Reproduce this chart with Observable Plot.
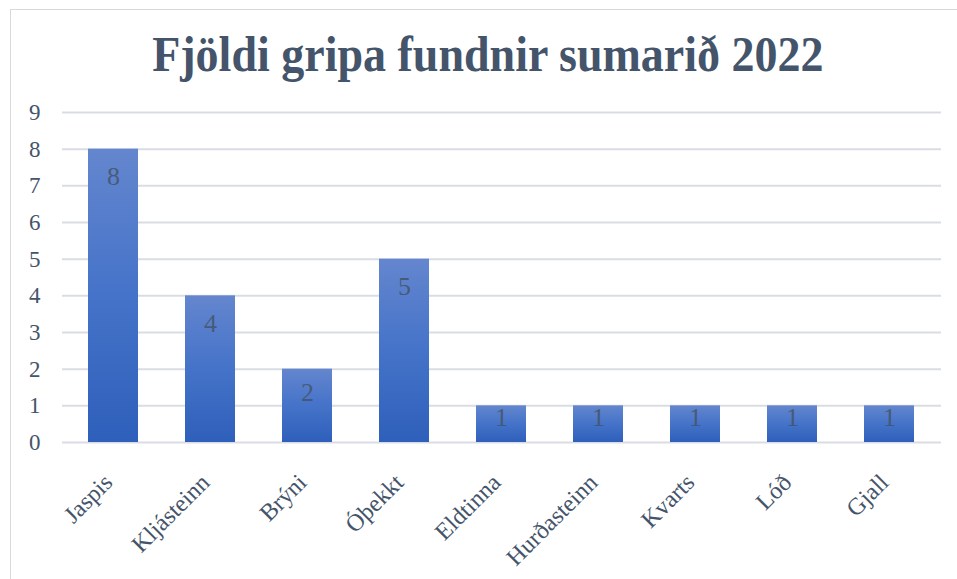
<!DOCTYPE html>
<html>
<head>
<meta charset="utf-8">
<script src="https://cdn.jsdelivr.net/npm/d3@7"></script>
<script src="https://cdn.jsdelivr.net/npm/@observablehq/plot@0.6"></script>
<style>
  html, body { margin: 0; padding: 0; background: #fff; overflow: hidden; width: 957px; height: 579px; }
  #frame { position: absolute; left: 10px; top: 9px; width: 960px; height: 600px; border: 1px solid #D9D9D9; box-sizing: border-box; }
  #title { position: absolute; left: 10px; top: 22px; width: 956px; text-align: center; font-family: "Liberation Serif", serif; font-weight: bold; font-size: 50px; color: #44546A; line-height: 64px; white-space: nowrap; }
  #title span { display: inline-block; transform: scaleX(0.92); }
  #chart { position: absolute; left: 0; top: 95px; }
</style>
</head>
<body>
<div id="frame"></div>
<div id="title"><span>Fjöldi gripa fundnir sumarið 2022</span></div>
<div id="chart"></div>
<script>
const categories = ["Jaspis", "Kljásteinn", "Brýni", "Óþekkt", "Eldtinna", "Hurðasteinn", "Kvarts", "Lóð", "Gjall"];
const counts = [8, 4, 2, 5, 1, 1, 1, 1, 1];
const yTicks = [0, 1, 2, 3, 4, 5, 6, 7, 8, 9];

const data = categories.map((c, i) => ({category: c, value: counts[i]}));
const textColor = "#44546A";

const chart = Plot.plot({
  width: 957,
  height: 484,
  marginLeft: 62,
  marginRight: 16,
  marginTop: 17,
  marginBottom: 137,
  style: { fontFamily: "Liberation Serif, serif", background: "transparent", overflow: "visible" },
  x: { domain: categories, paddingInner: 0.48, paddingOuter: 0.24, label: null },
  y: { domain: [0, 9], ticks: yTicks, label: null },
  marks: [
    Plot.ruleY(yTicks, { stroke: "#D9DDE3", strokeWidth: 2 }),
    Plot.barY(data, { x: "category", y: "value", fill: "url(#barGrad)" }),
    Plot.text(data, { x: "category", y: d => Math.max(d.value - 0.755, d.value * 0.68), text: d => String(d.value), fill: textColor, fontSize: 26, fillOpacity: 0.85 }),
    Plot.axisY({ ticks: yTicks, tickSize: 0, tickPadding: 22, fontSize: 23, color: textColor }),
    Plot.axisX({ tickSize: 0, tickRotate: -45, tickPadding: 36, dx: -5, fontSize: 24, color: textColor })
  ]
});

// enforce font sizes
chart.querySelectorAll("g[aria-label]").forEach(g => {
  const label = g.getAttribute("aria-label");
  let size = null;
  if (label.startsWith("x-axis")) size = "24px";
  else if (label.startsWith("y-axis")) size = "23px";
  else if (label === "text") size = "26px";
  if (size) {
    g.style.fontSize = size;
    g.querySelectorAll("text").forEach(t => { t.style.fontSize = size; });
  }
});

const ns = "http://www.w3.org/2000/svg";
const defs = document.createElementNS(ns, "defs");
const grad = document.createElementNS(ns, "linearGradient");
grad.setAttribute("id", "barGrad");
grad.setAttribute("x1", "0"); grad.setAttribute("y1", "0");
grad.setAttribute("x2", "0"); grad.setAttribute("y2", "1");
[["0%", "#6486CE"], ["50%", "#4573C9"], ["100%", "#2E5FBA"]].forEach(([o, c]) => {
  const s = document.createElementNS(ns, "stop");
  s.setAttribute("offset", o); s.setAttribute("stop-color", c);
  grad.appendChild(s);
});
defs.appendChild(grad);
chart.insertBefore(defs, chart.firstChild);
document.getElementById("chart").appendChild(chart);
</script>
</body>
</html>
